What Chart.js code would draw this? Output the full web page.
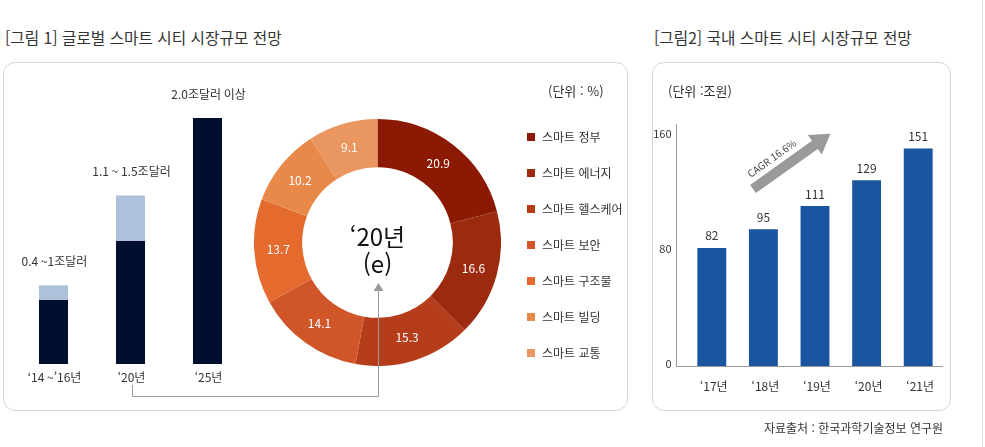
<!DOCTYPE html>
<html lang="ko">
<head>
<meta charset="utf-8">
<script src="https://cdn.jsdelivr.net/npm/chart.js@4.4.1/dist/chart.umd.min.js"></script>
<style>
  body { margin:0; width:985px; height:447px; background:#fff; position:relative; overflow:hidden;
         font-family:"Noto Sans CJK KR","Noto Sans",sans-serif; color:#333; }
  .title { position:absolute; top:27px; font-size:15.7px; color:#333; white-space:nowrap; line-height:22px; }
  .panel { position:absolute; border:1px solid #d6d6d6; border-radius:12px; box-sizing:border-box; }
  canvas { position:absolute; }
  .unit { position:absolute; font-size:13px; color:#333; white-space:nowrap; line-height:18px; }
  .legend { position:absolute; left:527px; top:0; }
  .legend div { position:absolute; left:0; white-space:nowrap; font-size:12px; line-height:16px; }
  .legend span { display:inline-block; width:8px; height:8px; margin-right:7px; vertical-align:1px; }
  .center { position:absolute; left:327px; width:101px; top:222px; text-align:center;
            font-size:24px; line-height:27px; color:#111; }
  .rline { position:absolute; left:982px; top:0; width:1px; height:447px; background:#ddd; }
  .source { position:absolute; left:764px; top:419px; font-size:12px; color:#333; white-space:nowrap; line-height:18px; }
</style>
</head>
<body>
<div class="title" style="left:5px">[그림 1] 글로벌 스마트 시티 시장규모 전망</div>
<div class="title" style="left:654px">[그림2] 국내 스마트 시티 시장규모 전망</div>
<div class="panel" style="left:3px; top:62px; width:625px; height:349px"></div>
<div class="panel" style="left:652px; top:62px; width:299px; height:349px"></div>
<div class="rline"></div>

<canvas id="globalBar" width="252" height="348" style="left:0; top:62px"></canvas>
<canvas id="share" width="247" height="247" style="left:254px; top:119px"></canvas>
<canvas id="krBar" width="298" height="349" style="left:652px; top:62px"></canvas>

<svg width="985" height="447" style="position:absolute; left:0; top:0; pointer-events:none">
  <polyline points="132.5,385 132.5,396.5 378.5,396.5 378.5,290" fill="none" stroke="#9a9a9a" stroke-width="1"/>
  <polygon points="373.5,291 383.5,291 378.5,283" fill="#9a9a9a"/>
</svg>

<div class="center">‘20년<br>(e)</div>
<div class="unit" style="left:548px; top:82px">(단위 : %)</div>
<div class="legend" id="legend"></div>
<div class="unit" style="left:668px; top:82px">(단위 :조원)</div>
<div class="source">자료출처 : 한국과학기술정보 연구원</div>

<script>
// 글로벌 시장규모 (조달러)
const globalCats = ['‘14 ~’16년', '‘20년', '‘25년'];
const globalLow = [0.52, 1.0, 2.0];
const globalRange = [0.12, 0.37, 0];
const globalLabels = ['0.4 ~1조달러', '1.1 ~ 1.5조달러', '2.0조달러 이상'];

// '20년 분야별 비중 (%)
const segLabels = ['스마트 정부', '스마트 에너지', '스마트 헬스케어', '스마트 보안', '스마트 구조물', '스마트 빌딩', '스마트 교통'];
const segValues = [20.9, 16.6, 15.3, 14.1, 13.7, 10.2, 9.1];
const segColors = ['#8c1903', '#9c2a0e', '#b63d1a', '#d0562a', '#e46a2e', '#e8894a', '#ea9660'];

// 국내 시장규모 (조원)
const krYears = ['‘17년', '‘18년', '‘19년', '‘20년', '‘21년'];
const krValues = [82, 95, 111, 129, 151];
const krTicks = [0, 80, 160];

const FONT = '"Noto Sans CJK KR", "Noto Sans", sans-serif';
Chart.defaults.font.family = FONT;
Chart.defaults.animation = false;
Chart.defaults.events = [];
Chart.defaults.plugins.legend.display = false;
Chart.defaults.plugins.tooltip.enabled = false;

// 범례
const legend = document.getElementById('legend');
segLabels.forEach((name, i) => {
    const row = document.createElement('div');
    row.style.top = (129 + i * 36) + 'px';
    row.innerHTML = `<span style="background:${segColors[i]}"></span>${name}`;
    legend.appendChild(row);
});

// 그림 1 - 막대
const globalText = {
    id: 'globalText',
    afterDatasetsDraw(chart) {
        const ctx = chart.ctx;
        const x = chart.scales.x, y = chart.scales.y;
        ctx.save();
        ctx.fillStyle = '#333';
        ctx.font = '12px ' + FONT;
        ctx.textAlign = 'center';
        ctx.textBaseline = 'middle';
        globalCats.forEach((cat, i) => {
            const px = x.getPixelForValue(i);
            ctx.fillText(cat, px + 1, y.bottom + 13);
            const top = y.getPixelForValue(globalLow[i] + globalRange[i]);
            ctx.fillText(globalLabels[i], px + 1, top - 24);
        });
        ctx.restore();
    }
};

new Chart(document.getElementById('globalBar'), {
    type: 'bar',
    data: {
        labels: globalCats,
        datasets: [
            { data: globalLow, backgroundColor: '#000f2f' },
            { data: globalRange, backgroundColor: '#adc2da' }
        ]
    },
    options: {
        responsive: false,
        layout: { padding: { left: 15, right: 6, top: 56, bottom: 46 } },
        datasets: { bar: { barPercentage: 0.377, categoryPercentage: 1 } },
        scales: {
            x: { display: false, stacked: true },
            y: { display: false, stacked: true, min: 0, max: 2.0 }
        }
    },
    plugins: [globalText]
});

// 그림 1 - 도넛
const shareText = {
    id: 'shareText',
    afterDatasetsDraw(chart) {
        const ctx = chart.ctx;
        ctx.save();
        ctx.fillStyle = '#fff';
        ctx.font = '12px ' + FONT;
        ctx.textAlign = 'center';
        ctx.textBaseline = 'middle';
        chart.getDatasetMeta(0).data.forEach((arc, i) => {
            const p = arc.tooltipPosition();
            ctx.fillText(segValues[i].toFixed(1), p.x, p.y);
        });
        ctx.restore();
    }
};

new Chart(document.getElementById('share'), {
    type: 'doughnut',
    data: {
        labels: segLabels,
        datasets: [{ data: segValues, backgroundColor: segColors, borderWidth: 0, hoverOffset: 0 }]
    },
    options: {
        responsive: false,
        cutout: '61%',
        layout: { padding: 0 }
    },
    plugins: [shareText]
});

// 그림 2 - 국내 막대
const krDecor = {
    id: 'krDecor',
    afterDatasetsDraw(chart) {
        const ctx = chart.ctx;
        const x = chart.scales.x, y = chart.scales.y;
        const axisX = chart.chartArea.left - 9.5;
        const axisY = Math.round(y.bottom) + 0.5;
        ctx.save();
        ctx.strokeStyle = '#999';
        ctx.lineWidth = 1;
        ctx.beginPath();
        ctx.moveTo(axisX, y.top);
        ctx.lineTo(axisX, axisY);
        ctx.lineTo(chart.chartArea.right - 1, axisY);
        ctx.stroke();

        ctx.fillStyle = '#333';
        ctx.font = '11px ' + FONT;
        ctx.textAlign = 'right';
        ctx.textBaseline = 'middle';
        krTicks.forEach(v => ctx.fillText(String(v), axisX - 5, y.getPixelForValue(v) - 2));

        ctx.font = '12px ' + FONT;
        ctx.textAlign = 'center';
        krYears.forEach((yr, i) => {
            const px = x.getPixelForValue(i);
            ctx.fillText(yr, px + 2, axisY + 20);
            ctx.fillText(String(krValues[i]), px, y.getPixelForValue(krValues[i]) - 12);
        });

        // CAGR 화살표
        const tx = 101, ty = 127, len = 95, ang = -0.62;
        ctx.translate(tx, ty);
        ctx.rotate(ang);
        ctx.fillStyle = '#9a9a9a';
        ctx.beginPath();
        ctx.moveTo(0, -5);
        ctx.lineTo(len - 19, -5);
        ctx.lineTo(len - 19, -12);
        ctx.lineTo(len, 0);
        ctx.lineTo(len - 19, 12);
        ctx.lineTo(len - 19, 5);
        ctx.lineTo(0, 5);
        ctx.closePath();
        ctx.fill();
        ctx.fillStyle = '#444';
        ctx.font = '10px ' + FONT;
        ctx.textAlign = 'center';
        ctx.fillText('CAGR 16.6%', 33, -14);
        ctx.restore();
    }
};

new Chart(document.getElementById('krBar'), {
    type: 'bar',
    data: {
        labels: krYears,
        datasets: [{ data: krValues, backgroundColor: '#1a56a0' }]
    },
    options: {
        responsive: false,
        layout: { padding: { left: 34, right: 6, top: 62, bottom: 45 } },
        datasets: { bar: { barPercentage: 0.56, categoryPercentage: 1 } },
        scales: {
            x: { display: false },
            y: { display: false, min: 0, max: 168 }
        }
    },
    plugins: [krDecor]
});
</script>
</body>
</html>
